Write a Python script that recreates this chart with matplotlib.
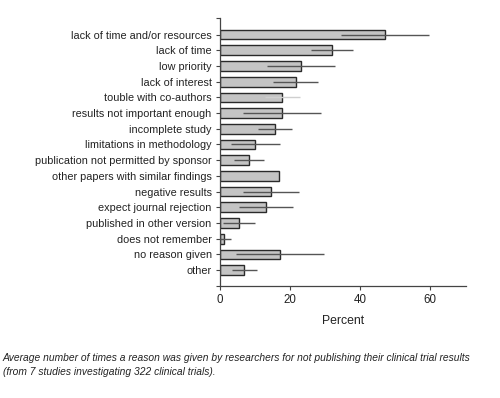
import matplotlib
matplotlib.use("Agg")
import matplotlib.pyplot as plt
import numpy as np

plt.rcParams['font.family'] = ['Liberation Sans', 'DejaVu Sans']

categories = [
    "lack of time and/or resources",
    "lack of time",
    "low priority",
    "lack of interest",
    "touble with co-authors",
    "results not important enough",
    "incomplete study",
    "limitations in methodology",
    "publication not permitted by sponsor",
    "other papers with similar findings",
    "negative results",
    "expect journal rejection",
    "published in other version",
    "does not remember",
    "no reason given",
    "other",
]
values = [47.1, 32.1, 23.1, 21.6, 17.8, 17.6, 15.8, 10.0, 8.4, 16.8, 14.6, 13.1, 5.5, 1.1, 17.1, 6.9]
err_lo = [34.6, 26.0, 13.3, 15.2, 12.9, 6.7, 10.9, 3.1, 4.1, 16.8, 6.7, 5.5, 0.8, 0.0, 4.6, 3.3]
err_hi = [59.7, 37.9, 33.0, 27.9, 22.9, 28.8, 20.5, 17.2, 12.7, 16.8, 22.6, 20.9, 10.1, 3.2, 29.8, 10.6]
xticks = [0, 20, 40, 60]
caption = ("Average number of times a reason was given by researchers for not publishing their clinical trial results\n"
           "(from 7 studies investigating 322 clinical trials).")

fig = plt.figure(figsize=(5.0, 3.98), dpi=100)
ax = fig.add_axes([0.44, 0.281, 0.492, 0.674])

y = np.arange(len(categories))
vals = np.array(values)
lo = vals - np.array(err_lo)
hi = np.array(err_hi) - vals

ax.barh(y, vals, height=0.62, color='#c4c4c4', edgecolor='#2a2a2a', linewidth=1.0, zorder=2)
err_colors = ['#555555'] * len(categories)
err_colors[4] = '#cfcfcf'
for i in range(len(categories)):
    ax.errorbar(vals[i], y[i], xerr=[[lo[i]], [hi[i]]], fmt='none', ecolor=err_colors[i],
                elinewidth=1.0, capsize=0, zorder=3)

ax.set_ylim(len(categories) - 1 + 1.02, -1.06)
ax.set_xlim(0, 70.3)
ax.set_yticks(y)
ax.set_yticklabels(categories, fontsize=7.8, color='#222222')
ax.set_yticks([-1.06, len(categories) - 1 + 1.02], minor=True)
ax.tick_params(axis='y', which='minor', length=3, width=0.8, color='#444444', direction='out')
ax.set_xticks(xticks)
ax.set_xticklabels([str(t) for t in xticks], fontsize=8.3, color='#222222')
ax.tick_params(axis='both', which='major', length=3, width=0.8, color='#444444', direction='out', pad=3)
ax.set_xlabel("Percent", fontsize=8.8, color='#222222', labelpad=6)

for s in ['top', 'right']:
    ax.spines[s].set_visible(False)
for s in ['left', 'bottom']:
    ax.spines[s].set_color('#444444')
    ax.spines[s].set_linewidth(0.9)

fig.text(0.006, 0.083, caption, fontsize=7.4, style='italic', color='#222222',
         va='center', ha='left', linespacing=1.55)

fig.savefig("out.png", dpi=100)
